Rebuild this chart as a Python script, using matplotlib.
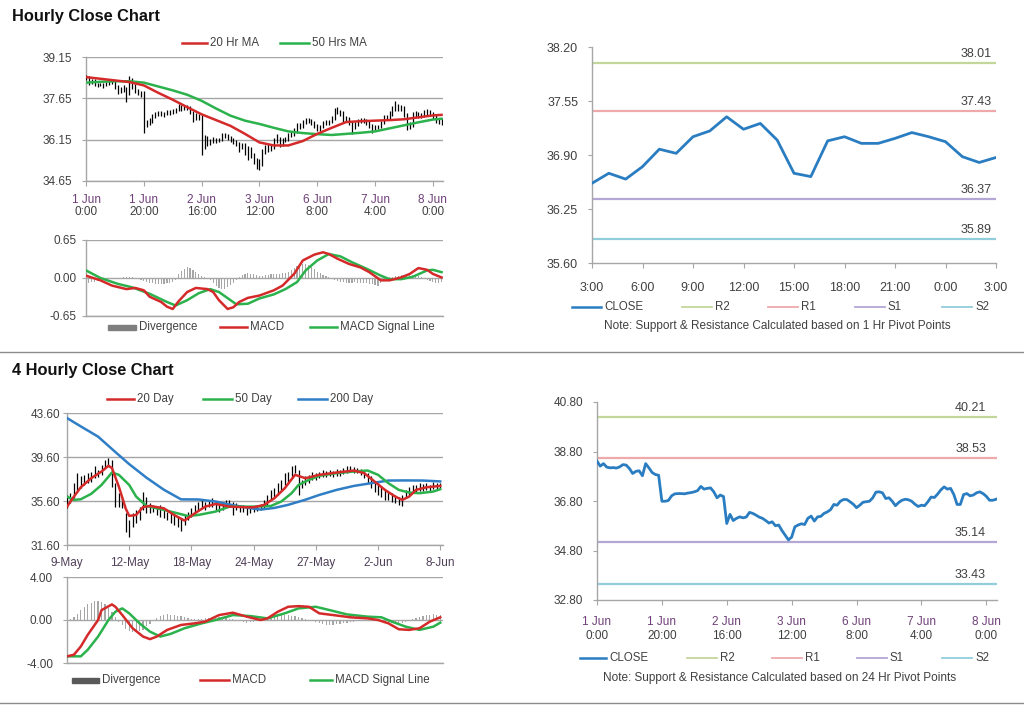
# -*- coding: utf-8 -*-
"""Hourly / 4-hourly close charts with MA, MACD and pivot levels (Excel-style dashboard)."""
import matplotlib as mpl; mpl.use("Agg")
import matplotlib.pyplot as plt
from matplotlib.lines import Line2D
from matplotlib.patches import Rectangle

plt.rcParams["font.family"] = ["Liberation Sans", "DejaVu Sans"]

TXT = "#404040"
AXG = "#a6a6a6"
DATE_C = "#6e3f78"
RED = "#d42a2a"
GREEN = "#2bb24c"
BLUE = "#2f7ec6"
CLOSE_C = "#2a7dc1"
LVL_C = ["#c4d79b", "#eeaaaa", "#b4a7d6", "#92cddc"]
DIV_C = "#a6a6a6"

# ── Hourly data (1 Jun 0:00 → 8 Jun ~3:00), one value per bar ─────────────────
CLOSE_1H = [38.41, 38.21, 38.31, 38.17, 38.14, 38.15, 38.13, 38.18, 38.27, 38.25,
            38.11, 37.91, 38.00, 38.02, 37.82, 38.31, 38.14, 37.95, 37.87, 37.84,
            36.79, 36.79, 36.82, 37.01, 37.09, 37.10, 37.10, 37.09, 37.12, 37.14,
            37.17, 37.22, 37.39, 37.28, 37.31, 37.33, 37.17, 36.93, 37.04, 36.98,
            35.89, 36.26, 36.01, 36.10, 36.16, 36.12, 36.15, 36.34, 36.30, 36.23,
            36.15, 36.10, 36.01, 35.91, 35.96, 35.80, 35.83, 35.61, 35.42, 35.23,
            35.34, 35.76, 35.83, 35.88, 35.85, 36.10, 36.19, 35.99, 36.16, 36.18,
            36.30, 36.36, 36.45, 36.66, 36.63, 36.79, 36.86, 36.86, 36.77, 36.67,
            36.53, 36.63, 36.75, 36.77, 36.79, 36.93, 37.16, 37.17, 37.13, 36.90,
            36.93, 36.79, 36.61, 36.74, 36.83, 36.87, 36.85, 36.79, 36.67, 36.58,
            36.63, 36.61, 36.77, 36.96, 36.94, 37.08, 37.25, 37.37, 37.28, 37.31,
            37.06, 36.66, 36.66, 37.06, 37.10, 37.01, 37.04, 37.13, 37.17, 37.10,
            36.99, 36.83, 36.83, 36.87]
HI_1H = [38.48, 38.45, 38.36, 38.34, 38.22, 38.20, 38.19, 38.24, 38.32, 38.30,
         38.28, 38.14, 38.06, 38.12, 38.06, 38.46, 38.40, 38.18, 38.00, 37.92,
         37.90, 36.88, 36.92, 37.08, 37.16, 37.18, 37.20, 37.17, 37.22, 37.24,
         37.26, 37.30, 37.45, 37.42, 37.38, 37.40, 37.36, 37.20, 37.10, 37.08,
         37.03, 36.32, 36.30, 36.18, 36.24, 36.22, 36.22, 36.40, 36.38, 36.34,
         36.28, 36.20, 36.14, 36.05, 36.04, 36.02, 35.92, 35.88, 35.66, 35.48,
         35.45, 35.82, 35.95, 36.00, 35.96, 36.20, 36.34, 36.24, 36.22, 36.26,
         36.38, 36.46, 36.56, 36.76, 36.74, 36.88, 36.92, 36.94, 36.90, 36.82,
         36.72, 36.70, 36.82, 36.86, 36.88, 37.02, 37.30, 37.34, 37.24, 37.18,
         37.02, 36.98, 36.84, 36.80, 36.90, 36.94, 36.94, 36.90, 36.84, 36.72,
         36.70, 36.70, 36.84, 37.04, 37.04, 37.18, 37.36, 37.54, 37.46, 37.42,
         37.36, 37.10, 36.80, 37.14, 37.20, 37.14, 37.12, 37.22, 37.26, 37.22,
         37.14, 37.04, 36.92, 36.94]
LO_1H = [38.30, 38.15, 38.17, 38.10, 38.05, 38.08, 38.02, 38.10, 38.14, 38.18,
         37.98, 37.80, 37.85, 37.88, 37.52, 37.78, 38.00, 37.86, 37.76, 37.70,
         36.40, 36.62, 36.70, 36.76, 36.94, 37.00, 37.02, 36.98, 37.04, 37.05,
         37.08, 37.12, 37.18, 37.20, 37.22, 37.24, 37.08, 36.80, 36.86, 36.85,
         35.58, 35.80, 35.92, 35.95, 36.02, 36.04, 36.05, 36.10, 36.22, 36.14,
         36.06, 36.00, 35.92, 35.70, 35.82, 35.60, 35.40, 35.50, 35.25, 35.10,
         35.05, 35.20, 35.62, 35.70, 35.74, 35.80, 36.02, 35.88, 35.92, 36.08,
         36.10, 36.24, 36.30, 36.40, 36.54, 36.58, 36.72, 36.76, 36.68, 36.58,
         36.45, 36.48, 36.58, 36.68, 36.70, 36.74, 36.88, 37.08, 37.02, 36.80,
         36.82, 36.70, 36.37, 36.52, 36.66, 36.76, 36.76, 36.70, 36.58, 36.40,
         36.50, 36.52, 36.56, 36.72, 36.86, 36.88, 37.02, 37.20, 37.20, 37.18,
         36.96, 36.49, 36.52, 36.60, 36.98, 36.92, 36.94, 36.98, 37.06, 37.02,
         36.90, 36.74, 36.72, 36.70]

# moving averages, read at sample bars
MA_X_1H = [0, 5, 10, 15, 20, 25, 30, 35, 40, 45, 50, 55, 60, 65, 70, 75, 80, 85, 90,
           95, 100, 105, 110, 115, 120, 123]
MA20_1H = [38.42, 38.36, 38.30, 38.24, 38.12, 37.85, 37.60, 37.33, 37.07, 36.86, 36.65,
           36.36, 36.05, 35.94, 35.94, 36.10, 36.36, 36.58, 36.79, 36.82, 36.84, 36.86,
           36.89, 36.96, 37.03, 37.05]
MA50_1H = [38.22, 38.25, 38.27, 38.27, 38.22, 38.08, 37.94, 37.78, 37.56, 37.28, 37.02,
           36.84, 36.72, 36.58, 36.45, 36.39, 36.35, 36.32, 36.36, 36.40, 36.45, 36.56,
           36.67, 36.78, 36.88, 36.91]

MACD_X_1H = [0, 5, 9, 14, 17, 20, 22, 26, 28, 30, 32, 35, 38, 42, 44, 46, 49, 51, 53, 56,
             60, 65, 68, 72, 75, 79, 82, 84, 87, 91, 95, 98, 102, 105, 109, 112, 115, 118,
             120, 123]
MACD_1H = [0.04, -0.04, -0.13, -0.19, -0.17, -0.21, -0.32, -0.41, -0.49, -0.53, -0.40,
           -0.24, -0.17, -0.19, -0.24, -0.38, -0.53, -0.50, -0.41, -0.34, -0.30, -0.21,
           -0.13, 0.07, 0.30, 0.40, 0.44, 0.41, 0.33, 0.24, 0.18, 0.10, -0.04, -0.04,
           0.01, 0.07, 0.17, 0.14, 0.07, 0.01]
SIG_X_1H = [0, 5, 11, 16, 22, 28, 31, 35, 39, 43, 46, 50, 52, 56, 60, 65, 69, 73, 76, 80,
            84, 88, 92, 97, 102, 105, 109, 113, 118, 120, 123]
SIG_1H = [0.13, 0.00, -0.10, -0.16, -0.27, -0.41, -0.47, -0.38, -0.26, -0.19, -0.24,
          -0.38, -0.45, -0.44, -0.35, -0.28, -0.19, -0.07, 0.13, 0.30, 0.41, 0.37, 0.27,
          0.16, 0.04, -0.02, -0.02, 0.02, 0.13, 0.14, 0.10]
DIV_1H = [-0.07, -0.08, -0.07, -0.06, -0.05, -0.04,
          -0.03, -0.03, -0.02, -0.02, -0.01, -0.01, 0.00, 0.01,
          0.01, 0.02, 0.01, 0.00, -0.01,
          -0.03, -0.05, -0.07, -0.08, -0.09, -0.10, -0.10, -0.11, -0.10, -0.09, -0.08, -0.07, -0.04,
          0.06, 0.12, 0.16, 0.18, 0.17, 0.14, 0.10, 0.07,
          0.04, 0.02, 0.00, -0.04,
          -0.09, -0.14, -0.17, -0.19, -0.19, -0.16, -0.12, -0.08,
          -0.03, 0.02, 0.05,
          0.07, 0.08, 0.07, 0.06, 0.05, 0.04,
          0.04, 0.05, 0.05, 0.06, 0.06, 0.07, 0.07, 0.08, 0.09, 0.11,
          0.14, 0.17, 0.20, 0.22, 0.24, 0.24, 0.22, 0.19, 0.15, 0.11,
          0.08, 0.05, 0.03, 0.01, -0.01,
          -0.03, -0.05, -0.06, -0.07, -0.08, -0.08, -0.08, -0.07, -0.08, -0.08, -0.09, -0.09,
          -0.10, -0.11, -0.12, -0.13, -0.08,
          -0.04, -0.01, 0.01, 0.02,
          0.03, 0.04, 0.05, 0.05, 0.06, 0.06, 0.05, 0.05, 0.04, 0.02,
          -0.01, -0.03, -0.05, -0.07, -0.08, -0.08, -0.07]

TICKS_1H = [0, 20, 40, 60, 80, 100, 120]
DATES_1H = ["1 Jun", "1 Jun", "2 Jun", "3 Jun", "6 Jun", "7 Jun", "8 Jun"]
TIMES_1H = ["0:00", "20:00", "16:00", "12:00", "8:00", "4:00", "0:00"]

# ── Last 24 hours close (pivot chart, 1 Hr) ───────────────────────────────────
CLOSE_24 = [36.56, 36.68, 36.61, 36.76, 36.97, 36.92, 37.12, 37.19, 37.36, 37.21,
            37.28, 37.08, 36.68, 36.64, 37.07, 37.12, 37.04, 37.04, 37.10, 37.17,
            37.12, 37.06, 36.88, 36.81, 36.87]
HOURS_24 = ["3:00", "6:00", "9:00", "12:00", "15:00", "18:00", "21:00", "0:00", "3:00"]
LEVELS_1H = [38.01, 37.43, 36.37, 35.89]
LEVELS_24H = [40.21, 38.53, 35.14, 33.43]
LEVEL_NAMES = ["R2", "R1", "S1", "S2"]

# ── 4-hourly data (9 May → 8 Jun) ─────────────────────────────────────────────
HI_4H = [36.15, 36.30, 37.20, 38.13, 37.83, 37.98, 38.13, 38.28, 38.74, 38.43,
         38.89, 39.34, 39.50, 39.34, 37.20, 36.30, 36.00, 34.48, 33.88, 34.48,
         34.79, 35.09, 36.46, 36.00, 35.40, 35.24, 35.09, 35.24, 34.79, 34.64,
         34.48, 34.33, 34.18, 34.03, 34.33, 34.64, 34.94, 35.24, 35.55, 35.70,
         35.55, 35.70, 35.85, 35.55, 35.40, 35.55, 35.70, 35.70, 35.55, 35.40,
         35.24, 35.24, 35.09, 35.15, 35.15, 35.15, 35.33, 35.70, 36.15, 36.61,
         36.76, 37.22, 37.52, 38.13, 38.28, 38.74, 38.89, 38.43, 37.52, 37.83,
         37.98, 38.28, 38.13, 38.28, 38.43, 38.37, 38.43, 38.37, 38.49, 38.43,
         38.58, 38.80, 38.74, 38.67, 38.58, 38.49, 38.37, 38.13, 37.83, 37.37,
         37.22, 36.91, 36.61, 36.46, 36.31, 36.15, 36.00, 36.15, 36.61, 36.85,
         37.07, 37.07, 37.22, 37.16, 37.22, 37.07, 37.37, 37.28, 37.22]
LO_4H = [34.94, 35.40, 35.85, 36.61, 36.76, 37.07, 37.22, 37.37, 37.67, 37.82,
         37.98, 38.58, 38.74, 36.91, 35.09, 35.09, 34.94, 32.81, 32.36, 33.27,
         33.57, 33.88, 34.79, 34.48, 34.48, 34.64, 34.33, 34.18, 34.03, 33.88,
         33.57, 33.42, 33.27, 32.90, 33.42, 33.88, 34.18, 34.48, 34.79, 34.94,
         34.79, 35.09, 35.09, 34.79, 34.64, 34.79, 34.94, 35.09, 34.33, 34.79,
         34.64, 34.64, 34.33, 34.54, 34.60, 34.73, 34.79, 34.94, 35.24, 35.70,
         35.85, 36.15, 36.61, 37.07, 37.37, 37.82, 38.13, 36.15, 36.76, 37.07,
         37.22, 37.52, 37.52, 37.67, 37.76, 37.76, 37.89, 37.82, 37.89, 37.89,
         38.07, 38.19, 38.28, 38.19, 38.13, 37.98, 37.67, 37.22, 36.76, 36.46,
         36.15, 36.00, 35.70, 35.70, 35.55, 35.40, 35.24, 35.15, 35.85, 36.15,
         36.31, 36.37, 36.55, 36.55, 36.61, 36.55, 36.67, 36.67, 36.67]

MA20_X_4H = [0, 2, 4, 7, 10, 12, 13, 15, 17, 18, 20, 22, 24, 28, 31, 34, 37, 40, 43, 47,
             52, 54, 57, 60, 63, 66, 69, 73, 78, 83, 86, 89, 92, 95, 97, 99, 101, 104, 108]
MA20_4H = [35.09, 36.00, 36.85, 37.67, 38.28, 38.80, 38.60, 36.91, 34.90, 34.25, 34.33,
           35.05, 35.15, 34.94, 34.33, 33.82, 34.48, 35.09, 35.33, 35.09, 35.03, 35.03,
           35.24, 35.85, 36.76, 37.98, 37.67, 37.98, 38.19, 38.37, 38.13, 37.37, 36.61,
           36.00, 35.70, 36.00, 36.61, 36.85, 36.97]
MA50_X_4H = [0, 2, 4, 7, 10, 13, 15, 18, 20, 23, 28, 32, 35, 38, 43, 47, 52, 54, 59, 62,
             65, 67, 70, 73, 78, 83, 87, 90, 93, 96, 99, 102, 106, 108]
MA50_4H = [36.00, 35.70, 35.76, 36.25, 37.06, 38.19, 37.98, 37.06, 36.00, 35.15, 34.79,
           34.48, 34.24, 34.33, 34.64, 35.09, 35.09, 35.09, 35.15, 35.55, 36.31, 37.06,
           37.52, 37.89, 38.13, 38.28, 38.37, 37.98, 37.22, 36.61, 36.37, 36.31, 36.46,
           36.67]
MA200_X_4H = [0, 4, 9, 14, 18, 23, 28, 33, 38, 43, 48, 53, 56, 60, 64, 69, 73, 78, 83, 88,
              93, 98, 103, 108]
MA200_4H = [43.14, 42.38, 41.45, 40.05, 38.95, 37.72, 36.63, 35.75, 35.74, 35.55, 35.22,
            34.95, 34.82, 34.97, 35.25, 35.72, 36.15, 36.61, 36.97, 37.22, 37.46, 37.47,
            37.46, 37.38]

MACD_X_4H = [0, 2, 4, 6, 9, 10, 13, 14, 16, 19, 22, 24, 26, 29, 33, 37, 40, 44, 48, 52,
             56, 58, 61, 64, 67, 70, 73, 77, 82, 87, 90, 93, 96, 99, 102, 105, 108]
MACD_4H = [-3.38, -3.23, -2.46, -1.38, 0.00, 0.92, 1.45, 1.23, 0.46, -0.77, -1.54, -1.78,
           -1.54, -0.92, -0.46, -0.31, -0.15, 0.46, 0.68, 0.31, 0.00, 0.15, 0.77, 1.23,
           1.29, 1.23, 0.62, 0.46, 0.25, 0.15, 0.00, -0.31, -0.86, -0.92, -0.77, -0.15,
           0.25]
SIG_X_4H = [0, 4, 6, 9, 12, 14, 16, 18, 21, 24, 27, 30, 34, 39, 43, 48, 53, 58, 63, 67,
            72, 76, 81, 87, 91, 94, 98, 102, 106, 108]
SIG_4H = [-3.38, -3.38, -2.77, -1.54, 0.00, 0.77, 1.08, 0.62, -0.31, -1.08, -1.54, -1.29,
          -0.77, -0.31, 0.00, 0.46, 0.37, 0.15, 0.62, 1.08, 1.23, 0.92, 0.52, 0.31, 0.25,
          -0.15, -0.62, -0.92, -0.62, -0.25]
DIV_4H = [0.00, 0.05,
          0.30, 0.60, 0.90, 1.20, 1.45, 1.60, 1.75, 1.78, 1.70, 1.50, 1.15, 0.70, 0.25,
          -0.20, -0.50, -0.80, -1.00, -1.10, -1.10, -1.05, -0.90, -0.60, -0.35, -0.10,
          0.15, 0.35, 0.50, 0.55, 0.50, 0.45, 0.40, 0.35, 0.25, 0.20, 0.10,
          0.05, 0.05, 0.10, 0.15, 0.20, 0.25, 0.30, 0.30, 0.25, 0.20, 0.10, 0.05, 0.00,
          -0.10, -0.20, -0.25, -0.20, -0.15, -0.05,
          0.05, 0.15, 0.25, 0.35, 0.40, 0.45, 0.50, 0.50, 0.45, 0.40, 0.35, 0.30, 0.20,
          0.10, 0.00, -0.10,
          -0.20, -0.30, -0.40, -0.45, -0.50, -0.45, -0.40, -0.35, -0.30, -0.25, -0.20,
          -0.15, -0.10, -0.10, -0.05, 0.00, 0.00,
          -0.05, -0.10, -0.15, -0.20, -0.25, -0.30, -0.30, -0.30, -0.25, -0.20, -0.10,
          0.05, 0.15, 0.25, 0.35, 0.45, 0.50, 0.55, 0.50, 0.45]

TICKS_4H = [0, 18, 36, 54, 72, 90, 108]
DATES_4H = ["9-May", "12-May", "18-May", "24-May", "27-May", "2-Jun", "8-Jun"]

# ── Figure ─────────────────────────────────────────────────────────────────────
W, H = 1024, 706
fig = plt.figure(figsize=(W / 100, H / 100), dpi=100)


def box(x0, y0, x1, y1):
    return [x0 / W, 1 - y1 / H, (x1 - x0) / W, (y1 - y0) / H]


def style(ax, ypad=7, grid=True, ysize=8.5):
    for s in ("top", "right"):
        ax.spines[s].set_visible(False)
    for s in ("left", "bottom"):
        ax.spines[s].set_color(AXG)
        ax.spines[s].set_linewidth(1.0)
    ax.tick_params(axis="y", length=3, color=AXG, labelsize=ysize, labelcolor=TXT, pad=ypad)
    ax.tick_params(axis="x", length=3.5, color=AXG, labelsize=ysize, labelcolor=TXT)
    if grid:
        ax.grid(axis="y", color=AXG, lw=1.0)
        ax.set_axisbelow(True)


def two_line_ticks(ax, ticks, dates, times, dy1, dy2):
    ax.set_xticks(ticks)
    ax.set_xticklabels([])
    for t, d, h in zip(ticks, dates, times):
        ax.annotate(d, xy=(t, 0), xycoords=("data", "axes fraction"), xytext=(0, -dy1),
                    textcoords="offset pixels", ha="center", va="center",
                    fontsize=8.5, color=DATE_C, annotation_clip=False)
        ax.annotate(h, xy=(t, 0), xycoords=("data", "axes fraction"), xytext=(0, -dy2),
                    textcoords="offset pixels", ha="center", va="center",
                    fontsize=8.5, color=TXT, annotation_clip=False)


def leg(x0, x1, y, label, color, bar=False, lw=1.8):
    if bar:
        fig.add_artist(Rectangle((x0 / W, 1 - (y + 2.5) / H), (x1 - x0) / W, 5 / H,
                                 transform=fig.transFigure, color=color))
    else:
        fig.add_artist(Line2D([x0 / W, x1 / W], [1 - y / H] * 2, color=color, lw=lw))
    fig.text((x1 + 3) / W, 1 - y / H, label, fontsize=8.3, color=TXT, va="center", ha="left")


def fmt(v):
    return f"{v:.2f}"


# section titles and separators
fig.text(12 / W, 1 - 16 / H, "Hourly Close Chart", fontsize=11.8, fontweight="bold",
         color="#111111", va="center")
fig.text(12 / W, 1 - 370 / H, "4 Hourly Close Chart", fontsize=11.8, fontweight="bold",
         color="#111111", va="center")
for yy in (352, 703):
    fig.add_artist(Line2D([0, 1], [1 - yy / H] * 2, color="#8c8c8c", lw=1.0))

# ── Top-left: hourly bars + MAs ───────────────────────────────────────────────
ax = fig.add_axes(box(86, 57, 443, 181))
style(ax)
x1h = list(range(len(HI_1H)))
ax.vlines(x1h, LO_1H, HI_1H, color="black", lw=0.9, zorder=3)
ax.plot(MA_X_1H, MA50_1H, color=GREEN, lw=1.8, zorder=4)
ax.plot(MA_X_1H, MA20_1H, color=RED, lw=1.8, zorder=5)
ax.set_xlim(0, 123.5)
ax.set_ylim(34.65, 39.15)
yt = [34.65, 36.15, 37.65, 39.15]
ax.set_yticks(yt)
ax.set_yticklabels([fmt(v) for v in yt])
two_line_ticks(ax, TICKS_1H, DATES_1H, TIMES_1H, 19, 31)
leg(182, 207, 43, "20 Hr MA", RED)
leg(280, 309, 43, "50 Hrs MA", GREEN)

# ── Top-left: MACD ────────────────────────────────────────────────────────────
ax = fig.add_axes(box(86, 240, 443, 316))
style(ax, ypad=4)
ax.bar(x1h, DIV_1H, width=0.4, color=DIV_C, zorder=2)
ax.plot(SIG_X_1H, SIG_1H, color=GREEN, lw=1.8, zorder=3)
ax.plot(MACD_X_1H, MACD_1H, color=RED, lw=1.8, zorder=4)
ax.set_xlim(0, 123.5)
ax.set_ylim(-0.65, 0.65)
ax.set_yticks([-0.65, 0, 0.65])
ax.set_yticklabels(["-0.65", "0.00", "0.65"])
ax.set_xticks([])
leg(108, 136, 327, "Divergence", "#7f7f7f", bar=True)
leg(220, 247, 327, "MACD", RED)
leg(310, 337, 327, "MACD Signal Line", GREEN)

# ── Top-right: 24h close vs 1 Hr pivots ───────────────────────────────────────
ax = fig.add_axes(box(592, 47, 996, 263))
style(ax, grid=False, ysize=9)
for v, c in zip(LEVELS_1H, LVL_C):
    ax.axhline(v, color=c, lw=1.6, zorder=2)
    ax.annotate(fmt(v), xy=(1, v), xycoords=("axes fraction", "data"), xytext=(-4, 3),
                textcoords="offset pixels", ha="right", va="bottom", fontsize=9, color=TXT)
ax.plot(range(len(CLOSE_24)), CLOSE_24, color=CLOSE_C, lw=2.0, zorder=3)
ax.set_xlim(0, 24)
ax.set_ylim(35.60, 38.20)
yt = [35.60, 36.25, 36.90, 37.55, 38.20]
ax.set_yticks(yt)
ax.set_yticklabels([fmt(v) for v in yt])
ax.set_xticks(range(0, 25, 3))
ax.set_xticklabels(HOURS_24, fontsize=9)
ax.tick_params(axis="x", pad=10)
leg(572, 601, 307, "CLOSE", CLOSE_C, lw=1.8)
for (x0, name), c in zip([(682, "R2"), (768, "R1"), (855, "S1"), (942, "S2")], LVL_C):
    leg(x0, x0 + 30, 307, name, c, lw=1.3)
fig.text(777 / W, 1 - 326 / H, "Note: Support & Resistance Calculated based on 1 Hr Pivot Points",
         fontsize=8.5, color=TXT, ha="center", va="center")

# ── Bottom-left: 4-hourly bars + MAs ──────────────────────────────────────────
ax = fig.add_axes(box(67, 413, 443, 545))
style(ax, ypad=2)
x4h = list(range(len(HI_4H)))
ax.vlines(x4h, LO_4H, HI_4H, color="black", lw=0.9, zorder=3)
ax.plot(MA200_X_4H, MA200_4H, color=BLUE, lw=1.8, zorder=4)
ax.plot(MA50_X_4H, MA50_4H, color=GREEN, lw=1.8, zorder=5)
ax.plot(MA20_X_4H, MA20_4H, color=RED, lw=1.8, zorder=6)
ax.set_xlim(0, 108.8)
ax.set_ylim(31.6, 43.6)
yt = [31.6, 35.6, 39.6, 43.6]
ax.set_yticks(yt)
ax.set_yticklabels([fmt(v) for v in yt])
ax.set_xticks(TICKS_4H)
ax.set_xticklabels([])
for t, d in zip(TICKS_4H, DATES_4H):
    ax.annotate(d, xy=(t, 0), xycoords=("data", "axes fraction"), xytext=(0, -18),
                textcoords="offset pixels", ha="center", va="center",
                fontsize=8.5, color="#4f3f58", annotation_clip=False)
leg(107, 134, 399, "20 Day", RED)
leg(203, 232, 399, "50 Day", GREEN)
leg(298, 327, 399, "200 Day", BLUE)

# ── Bottom-left: MACD ─────────────────────────────────────────────────────────
ax = fig.add_axes(box(67, 577, 443, 663))
style(ax, ypad=7)
ax.bar(x4h, DIV_4H, width=0.35, color=DIV_C, zorder=2)
ax.plot(SIG_X_4H, SIG_4H, color=GREEN, lw=1.8, zorder=3)
ax.plot(MACD_X_4H, MACD_4H, color=RED, lw=1.8, zorder=4)
ax.set_xlim(0, 108.8)
ax.set_ylim(-4, 4)
ax.set_yticks([-4, 0, 4])
ax.set_yticklabels(["-4.00", "0.00", "4.00"])
ax.set_xticks([])
leg(72, 99, 680, "Divergence", "#595959", bar=True)
leg(200, 229, 680, "MACD", RED)
leg(310, 332, 680, "MACD Signal Line", GREEN)

# ── Bottom-right: hourly close vs 24 Hr pivots ────────────────────────────────
ax = fig.add_axes(box(597, 402, 997, 600))
style(ax, grid=False)
for v, c in zip(LEVELS_24H, LVL_C):
    ax.axhline(v, color=c, lw=1.6, zorder=2)
    ax.annotate(fmt(v), xy=(1, v), xycoords=("axes fraction", "data"), xytext=(-11, 3),
                textcoords="offset pixels", ha="right", va="bottom", fontsize=9, color=TXT)
ax.plot(range(len(CLOSE_1H)), CLOSE_1H, color=CLOSE_C, lw=2.0, zorder=3)
ax.set_xlim(0, 123.3)
ax.set_ylim(32.8, 40.8)
yt = [32.8, 34.8, 36.8, 38.8, 40.8]
ax.set_yticks(yt)
ax.set_yticklabels([fmt(v) for v in yt])
two_line_ticks(ax, TICKS_1H, DATES_1H, TIMES_1H, 22, 36)
leg(580, 606, 658, "CLOSE", CLOSE_C, lw=1.8)
for (x0, name), c in zip([(687, "R2"), (772, "R1"), (857, "S1"), (942, "S2")], LVL_C):
    leg(x0, x0 + 30, 658, name, c, lw=1.3)
fig.text(780 / W, 1 - 678 / H, "Note: Support & Resistance Calculated based on 24 Hr Pivot Points",
         fontsize=8.5, color=TXT, ha="center", va="center")

fig.savefig("out.png", dpi=100, facecolor="white")
